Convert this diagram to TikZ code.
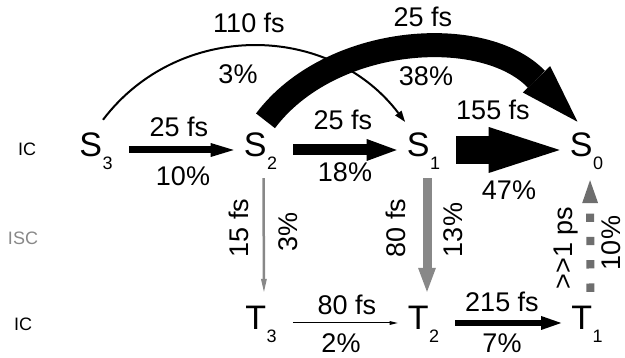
\documentclass[tikz,border=0pt]{standalone}
\usepackage{fontspec}
\setmainfont{Liberation Sans}
\setsansfont{Liberation Sans}
\usepackage{xcolor}
\usetikzlibrary{arrows.meta, positioning}
\definecolor{iscgray}{RGB}{136,136,136}
\definecolor{phosgray}{RGB}{110,110,110}
\newcommand{\lvl}[2]{#1\kern0.5pt\raisebox{-13pt}{\fontsize{18}{18}\selectfont #2}}

\begin{document}
\begin{tikzpicture}[
    x=1pt, y=1pt,
    font=\fontsize{27}{27}\selectfont,
    level/.style={inner sep=0pt, text height=26pt, text depth=12pt, font=\fontsize{34}{34}\selectfont},
    lbl/.style={inner sep=0pt},
    side/.style={inner sep=0pt, font=\fontsize{18}{18}\selectfont},
    flow/.style={shorten <=16pt, shorten >=10pt},
    down/.style={shorten <=9pt, shorten >=12pt, iscgray}
]
\useasboundingbox (0,0) rectangle (625,358);

% states
\node[level] (s3) at (96,208) {\lvl{S}{3}};
\node[level] (s2) at (260.5,208) {\lvl{S}{2}};
\node[level] (s1) at (423.5,208) {\lvl{S}{1}};
\node[level] (s0) at (586.5,208) {\lvl{S}{0}};
\node[level] (t3) at (261,35) {\lvl{T}{3}};
\node[level] (t2) at (423.5,35) {\lvl{T}{2}};
\node[level] (t1) at (587,35) {\lvl{T}{1}};

% row labels
\node[side] (ic1) at (27,209) {IC};
\node[side, text=iscgray] (isc) at (23,120) {ISC};
\node[side] (ic2) at (23,34) {IC};

% internal conversion, singlets
\draw[flow, line width=7pt, -{Triangle[length=23pt, width=14pt, line width=0pt]}] (s3.east) -- (s2.west);
\draw[flow, line width=11pt, -{Triangle[length=30pt, width=22pt, line width=0pt]}] (s2.east) -- (s1.west);
\draw[flow, line width=28pt, -{Triangle[length=71pt, width=46pt, line width=0pt]}] (s1.east) -- (s0.west);
\draw[line width=2pt, -{Triangle[length=11pt, width=8pt, line width=0pt]}]
    ([shift={(7pt,11pt)}]s3.north) .. controls +(52.8:125) and +(127.2:125) .. ([shift={(-18.5pt,9pt)}]s1.north);
% wide arc S2 -> S0, head drawn at its end
\coordinate (hb) at ([shift={(-50pt,51.5pt)}]s0.north);
\draw[line width=24pt]
    ([shift={(5pt,10pt)}]s2.north) .. controls +(53:108) and +(134:77) .. (hb);
\fill ([shift={(44:19)}]hb) -- ([shift={(-46:59)}]hb) -- ([shift={(224:19)}]hb) -- cycle;

% intersystem crossing
\draw[down, line width=2.5pt, -{Triangle[length=13pt, width=6pt, line width=0pt]}] ([xshift=3pt]s2.south) -- ([xshift=3pt]t3.north);
\draw[down, line width=9pt, -{Triangle[length=24pt, width=18pt, line width=0pt]}] ([xshift=3.5pt]s1.south) -- ([xshift=3.5pt]t2.north);
\draw[phosgray, line width=8pt, dash pattern=on 8.3pt off 15pt, shorten <=12pt, shorten >=11pt,
    -{Triangle[length=23pt, width=16pt, line width=0pt]}] ([xshift=3.5pt]t1.north) -- ([xshift=3.5pt]s0.south);

% internal conversion, triplets
\draw[flow, line width=1pt, -{Triangle[length=8pt, width=4pt, line width=0pt]}] (t3.east) -- (t2.west);
\draw[flow, line width=6pt, -{Triangle[length=20pt, width=14pt, line width=0pt]}] (t2.east) -- (t1.west);

% times and yields
\node[lbl] (l110) at (249,335) {110 fs};
\node[lbl] (p3a) at (238,284) {3\%};
\node[lbl] (l25a) at (423,341) {25 fs};
\node[lbl] (p38) at (426,282) {38\%};
\node[lbl] (l25b) at (179,231) {25 fs};
\node[lbl] (p10a) at (183,182) {10\%};
\node[lbl] (l25c) at (343,238) {25 fs};
\node[lbl] (p18) at (345,186) {18\%};
\node[lbl] (l155) at (493,248) {155 fs};
\node[lbl] (p47) at (509,168) {47\%};
\node[lbl, rotate=90] (l15) at (239,130) {15 fs};
\node[lbl, rotate=90] (p3b) at (288,126) {3\%};
\node[lbl, rotate=90] (l80a) at (396,130) {80 fs};
\node[lbl, rotate=90] (p13) at (453,128) {13\%};
\node[lbl, rotate=90] (l1ps) at (566,110) {>{}>1 ps};
\node[lbl, rotate=90] (p10b) at (611,115) {10\%};
\node[lbl] (l80b) at (347,53) {80 fs};
\node[lbl] (p2) at (341,15) {2\%};
\node[lbl] (l215) at (502,56) {215 fs};
\node[lbl] (p7) at (502,15) {7\%};
\end{tikzpicture}
\end{document}
